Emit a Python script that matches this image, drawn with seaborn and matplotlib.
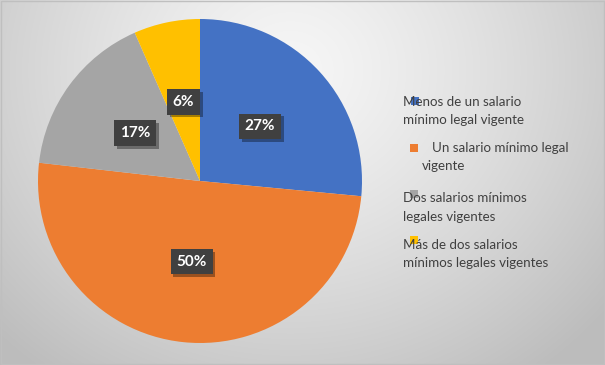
import numpy as np
import matplotlib
matplotlib.use("Agg")
import matplotlib.pyplot as plt
import matplotlib.patheffects as pe
from matplotlib.patches import Rectangle
import seaborn as sns

categories = ["Menos de un salario\nmínimo legal vigente",
              "Un salario mínimo legal\nvigente",
              "Dos salarios mínimos\nlegales vigentes",
              "Más de dos salarios\nmínimos legales vigentes"]
values = [26.5, 50.3, 16.6, 6.6]
pct_labels = ["27%", "50%", "17%", "6%"]
colors = ["#4472C4", "#ED7D31", "#A5A5A5", "#FFC000"]

sns.set_theme(style="white")
plt.rcParams['font.family'] = ['Lato', 'DejaVu Sans']

W, H = 605, 365
fig = plt.figure(figsize=(W / 100, H / 100), dpi=100)

# radial gradient background
bg = fig.add_axes([0, 0, 1, 1], zorder=-10)
yy, xx = np.mgrid[0:H, 0:W]
d = np.sqrt(((xx - 290) / 360.0) ** 2 + ((yy - 70) / 330.0) ** 2)
v = np.clip(0.965 - 0.19 * d ** 1.3, 0.74, 1)
img = np.dstack([v, v, v])
bg.imshow(img, extent=[0, W, H, 0], aspect='auto')
bg.set_xlim(0, W); bg.set_ylim(H, 0)
bg.add_patch(Rectangle((0.5, 0.5), W - 1.5, H - 1.5, fill=False, edgecolor='#bfbfbf', lw=1))
bg.axis('off')

cx, cy, r = 200, 181, 162
ax = fig.add_axes([(cx - r) / W, (H - cy - r) / H, 2 * r / W, 2 * r / H])
ax.set_facecolor('none')
wedges, texts = ax.pie(values, colors=colors, startangle=90, counterclock=False,
                       labels=pct_labels, labeldistance=0.5,
                       wedgeprops=dict(linewidth=0))
for t in texts:
    t.set_ha('center'); t.set_va('center')
    t.set_color('white'); t.set_fontweight('bold'); t.set_fontsize(11)
    t.set_bbox(dict(boxstyle='square,pad=0.38', facecolor='#404040', edgecolor='none',
                    path_effects=[pe.SimplePatchShadow(offset=(2, -2), shadow_rgbFace='#000000', alpha=0.35),
                                  pe.Normal()]))
ax.set_xlim(-1, 1); ax.set_ylim(-1, 1)
ax.set_aspect('auto')

# legend (manual to mimic layout)
txt_color = '#404040'
entries = [
    ((411, 97), [(403, 102, categories[0].split("\n")[0]), (403, 120, categories[0].split("\n")[1])]),
    ((410, 144), [(432, 148, categories[1].split("\n")[0]), (422, 166, categories[1].split("\n")[1])]),
    ((410, 190), [(403, 198, categories[2].split("\n")[0]), (403, 217, categories[2].split("\n")[1])]),
    ((410, 236), [(403, 245, categories[3].split("\n")[0]), (403, 263, categories[3].split("\n")[1])]),
]
for i, ((mx, my), lines) in enumerate(entries):
    for (tx, ty, s) in lines:
        fig.text(tx / W, 1 - ty / H, s, fontsize=9.6, color=txt_color, ha='left', va='center')
    bg.add_patch(Rectangle((mx, my), 7.5, 7.5, facecolor=colors[i], edgecolor='none', zorder=5))

fig.savefig("out.png", dpi=100)
